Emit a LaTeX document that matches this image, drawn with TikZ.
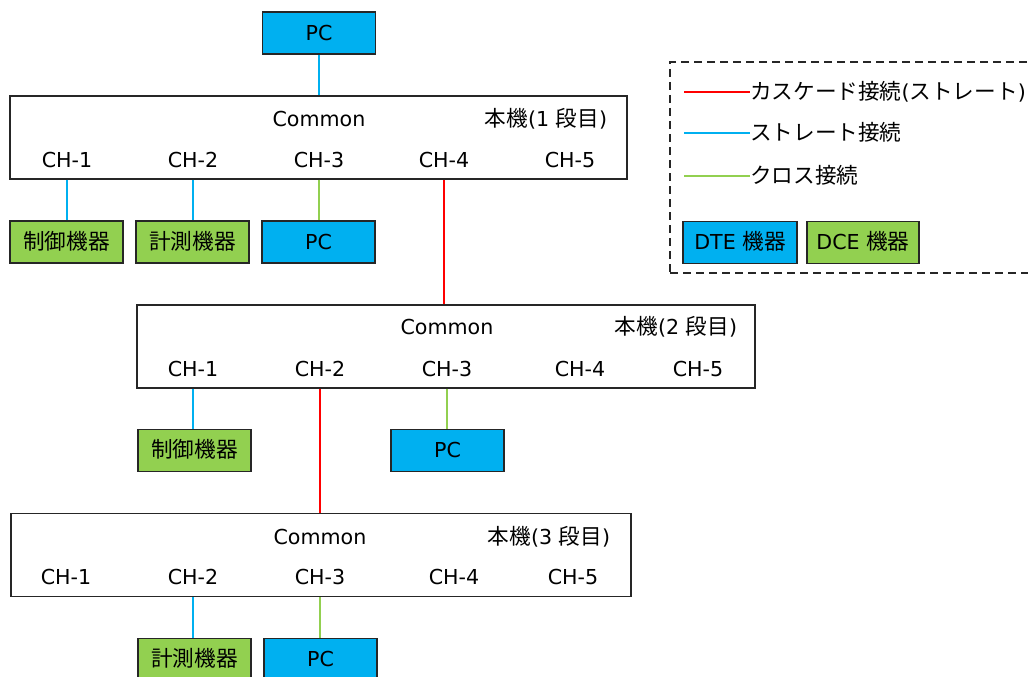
\documentclass[tikz,border=0pt]{standalone}
\usepackage{fontspec}
\setmainfont{DejaVu Sans}
\newfontfamily\jp[Scale=1.05]{Noto Sans CJK JP}
\definecolor{dteblue}{HTML}{00B0F0}
\definecolor{dcegreen}{HTML}{92D050}
\definecolor{casred}{HTML}{FF0000}
\begin{document}
\begin{tikzpicture}[x=1pt,y=-1pt,
  lbl/.style={inner sep=0pt, text height=14.5pt, text depth=0pt, font=\fontsize{20.6}{24}\selectfont},
  unitbox/.style={draw=black!85, line width=1.4pt, inner sep=0pt, minimum height=83pt},
  devbox/.style={draw=black!85, line width=1.4pt, inner sep=0pt, minimum width=113pt, minimum height=42pt,
                 text height=14.5pt, text depth=0pt, font=\fontsize{20.6}{24}\selectfont},
  dte/.style={devbox, fill=dteblue},
  dce/.style={devbox, fill=dcegreen},
  casline/.style={draw=casred, line width=1.6pt},
  strline/.style={draw=dteblue, line width=1.6pt},
  crsline/.style={draw=dcegreen, line width=1.6pt}]
\useasboundingbox (0,0) rectangle (1028,677);

% ---------- top PC ----------
\node[dte] (pc0) at (319,33) {PC};

% ---------- unit 1 ----------
\node[unitbox, minimum width=617pt] (u1) at (318.5,137.5) {};
\node[lbl] (u1c) at (319,119) {Common};
\node[lbl] (u1n) at (546,119) {{\jp 本機}(1 {\jp 段目})};
\node[lbl] (u1ch1) at (67,160) {CH-1};
\node[lbl] (u1ch2) at (193,160) {CH-2};
\node[lbl] (u1ch3) at (319,160) {CH-3};
\node[lbl] (u1ch4) at (444,160) {CH-4};
\node[lbl] (u1ch5) at (570,160) {CH-5};

\node[dce] (d11) at (66.5,242) {\jp 制御機器};
\node[dce] (d12) at (192.5,242) {\jp 計測機器};
\node[dte] (d13) at (318.5,242) {PC};

% ---------- unit 2 ----------
\node[unitbox, minimum width=618pt] (u2) at (446,346.5) {};
\node[lbl] (u2c) at (447,327) {Common};
\node[lbl] (u2n) at (676,327) {{\jp 本機}(2 {\jp 段目})};
\node[lbl] (u2ch1) at (193,369) {CH-1};
\node[lbl] (u2ch2) at (320,369) {CH-2};
\node[lbl] (u2ch3) at (447,369) {CH-3};
\node[lbl] (u2ch4) at (580,369) {CH-4};
\node[lbl] (u2ch5) at (698,369) {CH-5};

\node[dce] (d21) at (194.5,450.5) {\jp 制御機器};
\node[dte] (d23) at (447.5,450.5) {PC};

% ---------- unit 3 ----------
\node[unitbox, minimum width=620pt] (u3) at (321,555) {};
\node[lbl] (u3c) at (320,537) {Common};
\node[lbl] (u3n) at (549,537) {{\jp 本機}(3 {\jp 段目})};
\node[lbl] (u3ch1) at (66,577) {CH-1};
\node[lbl] (u3ch2) at (193,577) {CH-2};
\node[lbl] (u3ch3) at (320,577) {CH-3};
\node[lbl] (u3ch4) at (454,577) {CH-4};
\node[lbl] (u3ch5) at (573,577) {CH-5};

\node[dce] (d32) at (194.5,659.5) {\jp 計測機器};
\node[dte] (d33) at (320.5,659.5) {PC};

% ---------- connectors ----------
\draw[strline] (pc0.south) -- (pc0.south |- u1.north);
\draw[strline] (u1ch1 |- u1.south) -- (u1ch1 |- d11.north);
\draw[strline] (u1ch2 |- u1.south) -- (u1ch2 |- d12.north);
\draw[crsline] (u1ch3 |- u1.south) -- (u1ch3 |- d13.north);
\draw[casline] (u1ch4 |- u1.south) -- (u1ch4 |- u2.north);

\draw[strline] (u2ch1 |- u2.south) -- (u2ch1 |- d21.north);
\draw[casline] (u2ch2 |- u2.south) -- (u2ch2 |- u3.north);
\draw[crsline] (u2ch3 |- u2.south) -- (u2ch3 |- d23.north);

\draw[strline] (u3ch2 |- u3.south) -- (u3ch2 |- d32.north);
\draw[crsline] (u3ch3 |- u3.south) -- (u3ch3 |- d33.north);

% ---------- legend ----------
\node[draw=black!85, line width=1.4pt, dash pattern=on 8pt off 5pt, inner sep=0pt,
      minimum width=372pt, minimum height=211pt] (leg) at (856,167.5) {};
\coordinate (l1) at (684,92);
\coordinate (l2) at (684,133);
\coordinate (l3) at (684,176);
\node[lbl, anchor=west] (t1) at (750,92) {\jp カスケード接続\fontspec{DejaVu Sans}(\jp ストレート\fontspec{DejaVu Sans})};
\node[lbl, anchor=west] (t2) at (750,133) {\jp ストレート接続};
\node[lbl, anchor=west] (t3) at (750,176) {\jp クロス接続};
\draw[casline] (l1) -- (t1.west);
\draw[strline] (l2) -- (t2.west);
\draw[crsline] (l3) -- (t3.west);
\node[dte, minimum width=114pt] (kdte) at (740,242.5) {DTE {\jp 機器}};
\node[dce, minimum width=112pt] (kdce) at (863,242.5) {DCE {\jp 機器}};
\end{tikzpicture}
\end{document}
